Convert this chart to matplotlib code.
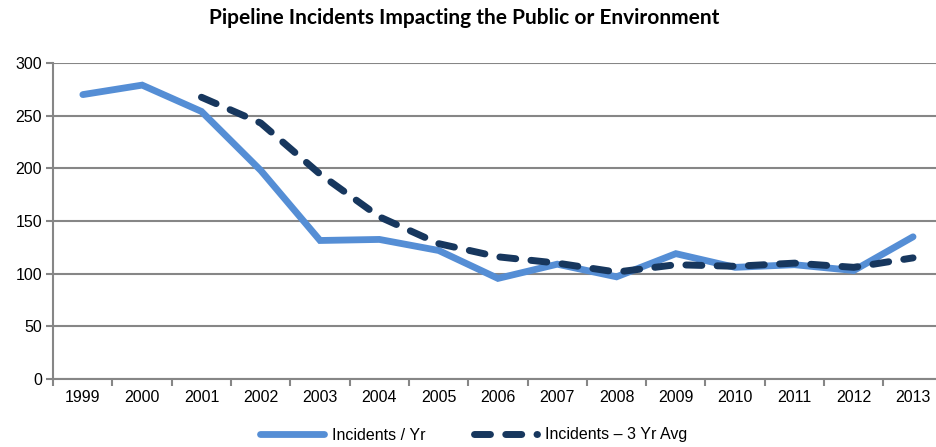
#!/usr/bin/env python3

import matplotlib
matplotlib.use("Agg")
import matplotlib.pyplot as plt

#-- data
years = ["1999", "2000", "2001", "2002", "2003", "2004", "2005", "2006",
         "2007", "2008", "2009", "2010", "2011", "2012", "2013"]
incidents = [270, 279, 254, 198, 131.5, 132.5, 122, 95.5,
             109, 97, 119, 106, 108.5, 103, 135]
# 3 year average starts at 2001
avg_years = years[2:]
avg3 = [267.5, 243, 194.5, 154, 128.5, 116, 110, 101.5,
        108.5, 107, 110, 106, 115]

yticks = [0, 50, 100, 150, 200, 250, 300]

blue = "#558ED5"
navy = "#17375E"
grey = "#868686"

plt.rcParams['font.family'] = ['Liberation Sans', 'DejaVu Sans']

fig = plt.figure(figsize=(9.36, 4.47), dpi=100)
ax = fig.add_axes([53.2/936, 68/447, 889.5/936, 316/447])

xs = list(range(len(years)))
xa = [years.index(y) for y in avg_years]

ax.plot(xs, incidents, color=blue, lw=4.9, solid_capstyle='round',
        solid_joinstyle='miter', label="Incidents / Yr", zorder=3)
ax.plot(xa, avg3, color=navy, lw=5, dashes=(2.3, 2.2),
        dash_capstyle='round', label="Incidents \u2013 3 Yr Avg", zorder=4)

ax.set_xlim(-0.5, len(years) - 0.5)
ax.set_ylim(0, 300)
ax.set_yticks(yticks)
ax.set_yticklabels([str(v) for v in yticks], fontsize=11.5)

ax.set_xticks(xs)
ax.set_xticklabels(years, fontsize=11.5)
ax.set_xticks([x - 0.5 for x in range(len(years) + 1)], minor=True)
ax.tick_params(axis='x', which='major', length=0, pad=8)
ax.tick_params(axis='x', which='minor', length=5, width=1.5, color=grey)
ax.tick_params(axis='y', length=5, width=1.5, color=grey, pad=3)

ax.grid(True, axis='y', color=grey, lw=1.5, zorder=1)
for s in ['top', 'right']:
    ax.spines[s].set_visible(False)
for s in ['left', 'bottom']:
    ax.spines[s].set_color(grey)
    ax.spines[s].set_linewidth(1.5)

fig.text(0.496, 1 - 18/447, "Pipeline Incidents Impacting the Public or Environment",
         ha='center', va='center', fontsize=15, fontweight='bold',
         family=['Lato', 'DejaVu Sans'])

fig.legend(loc='center', bbox_to_anchor=(474/936, 1 - 435/447), ncol=2,
           frameon=False, fontsize=11.5, handlelength=4.0, handletextpad=0.5,
           columnspacing=3.0)

fig.savefig("out.png", dpi=100)
